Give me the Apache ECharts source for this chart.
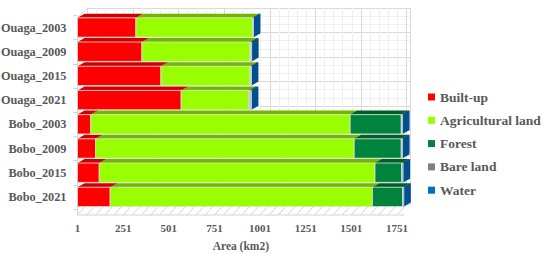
<!DOCTYPE html>
<html>
<head>
<meta charset="utf-8">
<script src="https://cdn.jsdelivr.net/npm/echarts@6/dist/echarts.min.js"></script>
<style>
  html, body { margin: 0; padding: 0; background: #fff; }
  #chart { width: 550px; height: 254px; }
</style>
</head>
<body>
<div id="chart"></div>
<script>
// ─── data (km2) ──────────────────────────────────────────
const categories = ['Ouaga_2003', 'Ouaga_2009', 'Ouaga_2015', 'Ouaga_2021',
                    'Bobo_2003', 'Bobo_2009', 'Bobo_2015', 'Bobo_2021'];
const builtUp      = [320, 353, 457, 568, 73, 99, 119, 179];
const agricultural = [639, 593, 489, 369, 1421, 1417, 1511, 1437];
const forest       = [1, 1, 1, 5, 280, 258, 147, 165];
const bareLand     = [1, 4, 3, 8, 2, 2, 2, 2];
const water        = [3, 3, 3, 3, 5, 5, 5, 5];

const seriesNames = ['Built-up', 'Agricultural land', 'Forest', 'Bare land', 'Water'];
const seriesData  = [builtUp, agricultural, forest, bareLand, water];
// front colour / darker top-and-side colour
const frontColors = ['#ff0000', '#99ff00', '#00843d', '#808080', '#0070c0'];
const shadeColors = ['#d00000', '#72b800', '#005e27', '#5c5c5c', '#00508f'];

const xTicks = { min: 1, interval: 250 };

const DX = 7, DY = 4;            // bar depth
const WALL_DX = 10, WALL_DY = 7; // back wall offset
const FONT = "'Liberation Serif', 'Times New Roman', serif";
const GREY_TEXT = '#595959';

// stacked start/end per category
const starts = categories.map(() => 0);
const stacked = seriesData.map(values => values.map((v, i) => {
  const s = starts[i];
  starts[i] += v;
  return [s + xTicks.min, s + v + xTicks.min, i];
}));

function renderBar(seriesIdx) {
  return function (params, api) {
    const a = api.coord([api.value(0), api.value(2)]);
    const b = api.coord([api.value(1), api.value(2)]);
    if (b[0] - a[0] <= 0) return;
    const h = api.size([0, 1])[1] * 0.8;
    const x0 = a[0], x1 = b[0];
    const yTop = a[1] - h / 2, yBot = a[1] + h / 2;
    const shade = shadeColors[seriesIdx];
    return {
      type: 'group',
      children: [
        { type: 'polygon', shape: { points: [[x1, yTop], [x1 + DX, yTop - DY], [x1 + DX, yBot - DY], [x1, yBot]] },
          style: { fill: shade } },
        { type: 'polygon', shape: { points: [[x0, yTop], [x0 + DX, yTop - DY], [x1 + DX, yTop - DY], [x1, yTop]] },
          style: { fill: shade } },
        { type: 'rect', shape: { x: x0, y: yTop, width: x1 - x0, height: h },
          style: { fill: frontColors[seriesIdx], stroke: '#dedede', lineWidth: 0.8 } }
      ]
    };
  };
}

// floor / side edges of the 3D box
function renderFrame(params, api) {
  const cs = params.coordSys;
  const floorY = cs.y + cs.height + 6;
  const wallBottom = cs.y + cs.height - 5;
  const line = (p, q) => ({ type: 'line', shape: { x1: p[0], y1: p[1], x2: q[0], y2: q[1] },
                            style: { stroke: '#d4d4d4', lineWidth: 1 } });
  const children = [
    line([cs.x, cs.y + 2], [cs.x, floorY]),
    line([cs.x, cs.y + 2], [cs.x + WALL_DX, cs.y - WALL_DY]),
    line([cs.x, floorY], [cs.x + cs.width, floorY])
  ];
  for (let v = xTicks.min; v <= 1751; v += 50) {
    const px = api.coord([v, 0])[0];
    children.push(line([px, floorY], [px + WALL_DX, wallBottom]));
  }
  return { type: 'group', children };
}

const chart = echarts.init(document.getElementById('chart'), null, { renderer: 'svg' });

const series = seriesNames.map((name, k) => ({
  name,
  type: 'custom',
  xAxisIndex: 0,
  yAxisIndex: 0,
  renderItem: renderBar(k),
  encode: { x: [0, 1], y: 2 },
  itemStyle: { color: frontColors[k] },
  data: stacked[k],
  z: 3
}));
series.unshift({
  type: 'custom',
  xAxisIndex: 0,
  yAxisIndex: 0,
  renderItem: renderFrame,
  data: [[xTicks.min, 0]],
  silent: true,
  z: 1
});

chart.setOption({
  animation: false,
  backgroundColor: '#fff',
  grid: [
    { left: 77.5, top: 15.4, width: 326.7, height: 193.6, outerBoundsMode: 'none' },  // front plane
    { left: 87.5, top: 8, width: 323, height: 196, outerBoundsMode: 'none' }          // back wall
  ],
  legend: {
    orient: 'vertical',
    left: 428,
    top: 90,
    padding: 0,
    itemWidth: 7,
    itemHeight: 7,
    itemGap: 9.3,
    icon: 'rect',
    data: seriesNames,
    textStyle: { fontFamily: FONT, fontWeight: 'bold', fontSize: 13.5, color: GREY_TEXT, lineHeight: 14 }
  },
  xAxis: [
    {
      type: 'value', gridIndex: 0,
      min: xTicks.min, max: 1791, interval: xTicks.interval,
      offset: 6,
      name: 'Area (km2)', nameLocation: 'middle', nameGap: 25,
      nameTextStyle: { fontFamily: FONT, fontWeight: 'bold', fontSize: 11.5, color: GREY_TEXT },
      axisLine: { show: false },
      axisTick: { show: false },
      splitLine: { show: false },
      axisLabel: { margin: 7, showMaxLabel: false, formatter: v => String(v),
                   fontFamily: FONT, fontWeight: 'bold', fontSize: 11, color: GREY_TEXT }
    },
    {
      type: 'value', gridIndex: 1,
      min: xTicks.min, max: 1773, interval: xTicks.interval,
      axisLine: { show: false }, axisTick: { show: false }, axisLabel: { show: false },
      splitLine: { lineStyle: { color: '#d9d9d9', width: 1 } },
      minorTick: { show: false, splitNumber: 5 },
      minorSplitLine: { show: true, lineStyle: { color: '#efefef', width: 1 } }
    }
  ],
  yAxis: [
    {
      type: 'category', gridIndex: 0,
      data: categories, inverse: true,
      axisLine: { show: false },
      axisTick: { show: true, length: 4, lineStyle: { color: '#d4d4d4' } },
      axisLabel: { margin: 11, fontFamily: FONT, fontWeight: 'bold', fontSize: 12.3, color: GREY_TEXT }
    },
    {
      type: 'value', gridIndex: 1,
      min: 0, max: 8, interval: 1,
      axisLine: { show: false }, axisTick: { show: false }, axisLabel: { show: false },
      splitLine: { lineStyle: { color: '#d9d9d9', width: 1 } },
      minorTick: { show: false, splitNumber: 3 },
      minorSplitLine: { show: true, lineStyle: { color: '#efefef', width: 1 } }
    }
  ],
  series
});
</script>
</body>
</html>
